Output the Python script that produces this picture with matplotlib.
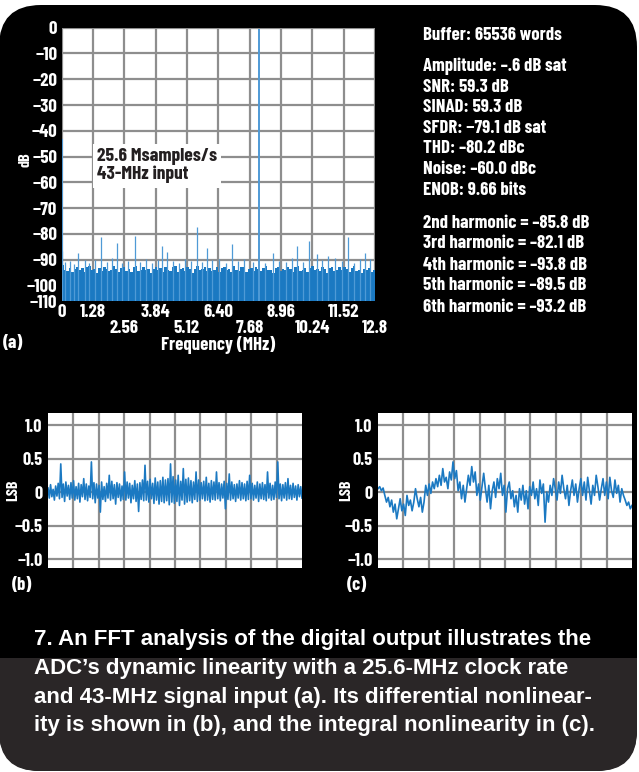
import os
import numpy as np
import matplotlib
matplotlib.use('Agg')
import matplotlib.pyplot as plt
from matplotlib import font_manager
from matplotlib.patches import FancyBboxPatch, Rectangle

# ---- data ----
# (a) FFT: noise floor per 0.1 MHz bin, spurs, and the DC / fundamental tones
floor_db = [
    -92.0, -93.8, -94.2, -93.1, -94.6, -93.5, -92.7, -94.0, -93.3, -94.8,
    -93.0, -92.4, -94.1, -93.6, -95.0, -93.2, -94.4, -92.9, -93.7, -94.5,
    -93.9, -92.6, -93.4, -94.7, -93.1, -92.8, -94.2, -93.5, -94.9, -93.0,
    -92.5, -94.3, -93.8, -92.9, -94.0, -93.4, -95.2, -93.6, -92.7, -94.1,
    -93.3, -94.6, -92.8, -93.9, -94.4, -93.0, -92.6, -94.8, -93.5, -93.2,
    -94.3, -92.9, -93.7, -95.1, -93.4, -92.5, -94.0, -93.6, -92.8, -94.5,
    -93.1, -94.2, -93.8, -92.7, -94.6, -93.3, -92.9, -94.1, -93.5, -94.9,
    -92.6, -93.9, -94.3, -93.0, -92.8, -94.7, -93.4, -93.1, -94.2, -92.9,
    -93.6, -94.4, -93.2, -92.5, -94.0, -93.8, -95.0, -93.3, -92.7, -94.5,
    -93.5, -94.1, -92.9, -93.7, -94.6, -93.0, -92.4, -94.2, -93.9, -93.3,
    -94.8, -93.1, -92.6, -94.0, -93.6, -94.3, -92.8, -93.4, -95.1, -93.2,
    -92.7, -94.5, -93.8, -93.0, -94.1, -92.9, -93.5, -94.7, -93.3, -92.6,
    -94.2, -93.9, -95.3, -93.4, -94.0, -93.1, -94.6, -93.8]

spur_mhz = [0.04, 0.15, 0.33, 0.52, 0.69, 0.95, 1.12, 1.35, 1.60, 1.85,
            2.05, 2.25, 2.48, 2.72, 3.00, 3.22, 3.45, 3.70, 3.95, 4.12,
            4.32, 4.55, 4.80, 5.05, 5.30, 5.52, 5.75, 5.93, 6.15, 6.42,
            6.70, 6.95, 7.20, 7.45, 7.80, 8.30, 8.65, 8.90, 9.15, 9.40,
            9.60, 9.85, 10.12, 10.42, 10.65, 10.90, 11.15, 11.45, 11.71, 11.95,
            12.20, 12.39, 12.60]
spur_db = [-86.5, -91.0, -90.5, -91.5, -87.5, -90.2, -91.3, -90.0, -81.0, -90.8,
           -89.5, -83.6, -91.2, -90.3, -80.7, -90.9, -89.8, -91.4, -90.1, -84.6,
           -87.0, -90.6, -91.1, -89.9, -90.4, -77.4, -91.0, -85.5, -90.2, -89.7,
           -91.3, -83.8, -90.5, -89.6, -90.9, -91.2, -87.5, -90.3, -91.0, -89.4,
           -84.6, -90.7, -82.9, -87.6, -90.1, -88.5, -89.2, -90.6, -81.0, -91.1,
           -89.8, -87.5, -89.9]

tone_mhz = [0.03, 8.05]
tone_db = [-43.0, -0.6]

freq_row1 = [0, 1.28, 3.84, 6.40, 8.96, 11.52]
freq_row1_lbl = ['0', '1.28', '3.84', '6.40', '8.96', '11.52']
freq_row2 = [2.56, 5.12, 7.68, 10.24, 12.8]
freq_row2_lbl = ['2.56', '5.12', '7.68', '10.24', '12.8']
db_ticks = [0, -10, -20, -30, -40, -50, -60, -70, -80, -90, -100, -106]
db_lbl = ['0', '\u221210', '\u221220', '\u221230', '\u221240', '\u221250',
          '\u221260', '\u221270', '\u221280', '\u221290', '\u2212100', '\u2212110']

# (b) differential nonlinearity, LSB
dnl = [
    0.06, -0.09, 0.11, -0.07, 0.04, -0.12, 0.09, -0.06, 0.13, -0.10,
    0.42, -0.08, 0.12, -0.14, 0.15, -0.06, 0.10, -0.11, 0.14, -0.09,
    0.17, -0.12, 0.08, -0.10, 0.13, -0.15, 0.11, -0.07, 0.20, -0.11,
    0.12, -0.13, 0.09, -0.08, 0.45, -0.10, 0.14, -0.16, 0.12, -0.09,
    0.10, -0.30, 0.15, -0.11, 0.08, -0.14, 0.13, -0.09, 0.25, -0.12,
    0.16, -0.10, 0.11, -0.18, 0.14, -0.08, 0.12, -0.13, 0.09, -0.11,
    0.30, -0.12, 0.15, -0.09, 0.13, -0.16, 0.10, -0.10, 0.17, -0.14,
    0.12, -0.29, 0.14, -0.11, 0.18, -0.13, 0.40, -0.12, 0.16, -0.15,
    0.19, -0.10, 0.13, -0.17, 0.21, -0.12, 0.15, -0.18, 0.17, -0.14,
    0.22, -0.16, 0.18, -0.13, 0.20, -0.19, 0.42, -0.15, 0.23, -0.17,
    0.18, -0.14, 0.25, -0.20, 0.16, -0.12, 0.35, -0.18, 0.19, -0.15,
    0.21, -0.13, 0.17, -0.16, 0.15, -0.11, 0.30, -0.14, 0.18, -0.12,
    0.14, -0.10, 0.16, -0.13, 0.22, -0.12, 0.13, -0.15, 0.17, -0.11,
    0.15, -0.12, 0.30, -0.10, 0.14, -0.13, 0.12, -0.09, 0.16, -0.25,
    0.13, -0.11, 0.27, -0.12, 0.15, -0.10, 0.11, -0.14, 0.12, -0.09,
    0.17, -0.12, 0.14, -0.10, 0.12, -0.13, 0.16, -0.11, 0.25, -0.10,
    0.13, -0.12, 0.10, -0.09, 0.15, -0.14, 0.12, -0.10, 0.14, -0.11,
    0.11, -0.13, 0.30, -0.09, 0.13, -0.12, 0.10, -0.11, 0.15, -0.08,
    0.45, -0.10, 0.12, -0.13, 0.11, -0.09, 0.14, -0.12, 0.20, -0.10,
    0.10, -0.11, 0.13, -0.08, 0.09, -0.12, 0.11, -0.07, 0.08, -0.09]

# (c) integral nonlinearity, LSB
inl = [
    0.05, 0.08, 0.02, 0.06, -0.05, -0.15, -0.08, -0.22, -0.12, -0.30,
    -0.18, -0.40, -0.25, -0.10, -0.28, -0.18, -0.35, -0.05, -0.20, -0.12,
    -0.28, -0.15, 0.05, -0.10, -0.22, -0.08, -0.30, -0.15, 0.10, -0.05,
    0.12, -0.02, 0.15, 0.05, 0.20, 0.08, 0.25, 0.10, 0.35, 0.15,
    0.22, 0.05, 0.30, 0.18, 0.45, 0.20, 0.32, 0.02, 0.15, -0.10,
    0.10, -0.15, 0.05, 0.25, 0.10, 0.38, 0.15, 0.30, -0.05, 0.12,
    -0.12, 0.08, 0.28, 0.05, -0.15, 0.10, -0.25, 0.02, 0.15, -0.08,
    0.20, 0.05, 0.28, -0.05, 0.10, -0.30, 0.05, 0.15, -0.10, 0.02,
    -0.22, -0.05, -0.30, 0.05, -0.12, 0.10, -0.18, 0.02, -0.25, 0.08,
    -0.05, 0.15, -0.10, 0.05, -0.20, 0.18, -0.02, 0.12, -0.45, 0.00,
    -0.15, 0.10, -0.05, 0.20, 0.05, -0.12, 0.15, -0.02, 0.25, 0.05,
    -0.10, 0.10, -0.20, 0.02, 0.18, -0.05, 0.12, -0.15, 0.05, 0.20,
    -0.05, 0.15, -0.12, 0.22, 0.02, -0.18, 0.10, -0.05, 0.25, 0.08,
    -0.12, 0.05, 0.20, -0.05, 0.15, -0.10, 0.22, 0.02, -0.08, 0.18,
    -0.02, 0.10, -0.15, 0.05, -0.05, -0.12, -0.20, -0.15, -0.25, -0.20]

lsb_ticks = [1.0, 0.5, 0, -0.5, -1.0]
lsb_lbl = ['1.0', '0.5', '0', '\u22120.5', '\u22121.0']

stats = ['Amplitude: \u2013.6 dB sat', 'SNR: 59.3 dB', 'SINAD: 59.3 dB',
         'SFDR: \u221279.1 dB sat', 'THD: \u201380.2 dBc', 'Noise: \u201360.0 dBc',
         'ENOB: 9.66 bits']
harmonics = ['2nd harmonic = \u201385.8 dB', '3rd harmonic = \u201382.1 dB',
             '4th harmonic = \u201393.8 dB', '5th harmonic = \u201389.5 dB',
             '6th harmonic = \u201393.2 dB']
caption = ['7. An FFT analysis of the digital output illustrates the',
           'ADC\u2019s dynamic linearity with a 25.6-MHz clock rate',
           'and 43-MHz signal input (a). Its differential nonlinear-',
           'ity is shown in (b), and the integral nonlinearity in (c).']

BLUE = '#1b79c2'
LIGHT = '#4f9ad6'
GRID = '#8e8e8e'


def find_font(names):
    files = {os.path.basename(f).lower(): f for f in font_manager.findSystemFonts()}
    for n in names:
        if n.lower() in files:
            return files[n.lower()]
    return None


cond_file = find_font(['BarlowCondensed-Bold.ttf', 'RobotoCondensed-Bold.ttf',
                       'DejaVuSansCondensed-Bold.ttf'])


def cond(size):
    if cond_file:
        return font_manager.FontProperties(fname=cond_file, size=size)
    return font_manager.FontProperties(family='DejaVu Sans', weight='bold', size=size * 0.85)


W, H = 639, 772
fig = plt.figure(figsize=(W / 100, H / 100), dpi=100)
fig.patch.set_facecolor('white')

# background panel in pixel coordinates
bg = fig.add_axes([0, 0, 1, 1])
bg.set_xlim(0, W)
bg.set_ylim(H, 0)
bg.axis('off')
bg.add_patch(FancyBboxPatch((-1, 5), 638, 766, boxstyle='round,pad=0,rounding_size=42',
                            fc='black', ec='none'))
bg.add_patch(FancyBboxPatch((-1, 600), 638, 171, boxstyle='round,pad=0,rounding_size=40',
                            fc='#2a2627', ec='none'))
bg.add_patch(Rectangle((-1, 600), 638, 58, fc='black', ec='none'))


def style(ax, size):
    ax.set_facecolor('white')
    for s in ax.spines.values():
        s.set_visible(False)
    ax.set_axisbelow(True)
    ax.grid(True, which='both', color=GRID, lw=1.6)
    ax.tick_params(which='both', length=0, labelcolor='white')
    for lab in ax.get_yticklabels() + ax.get_xticklabels(which='both'):
        lab.set_fontproperties(cond(size))


# ---- (a) FFT ----
axa = fig.add_axes([61.5 / W, 1 - 301 / H, 313.5 / W, 273.3 / H])
edges = np.linspace(0, 12.8, len(floor_db) + 1)
axa.stairs(floor_db, edges, baseline=-110, fill=True, color=BLUE, lw=0)
axa.vlines(spur_mhz, -110, spur_db, color=LIGHT, lw=0.9)
axa.vlines(tone_mhz, -110, tone_db, color=LIGHT, lw=1.4)
axa.set_xlim(0, 12.8)
axa.set_ylim(-106, 0)
axa.set_xticks(freq_row1, freq_row1_lbl)
axa.set_xticks(freq_row2, freq_row2_lbl, minor=True)
axa.set_yticks(db_ticks, db_lbl)
style(axa, 13.5)
axa.tick_params(axis='x', which='major', pad=2)
axa.tick_params(axis='x', which='minor', pad=14)
axa.tick_params(axis='y', pad=3)
axa.text(1.45, -53.6, '25.6 Msamples/s\n43-MHz input', color='#231f20',
         fontproperties=cond(14), va='center', ha='left',
         linespacing=1.05, bbox=dict(fc='white', ec='none', pad=3))

# ---- (b) DNL and (c) INL ----
for left, series in ((48, dnl), (378, inl)):
    ax = fig.add_axes([left / W, 1 - 568 / H, 254 / W, 155 / H])
    n = len(series)
    ax.plot(np.arange(n), series, color=BLUE, lw=1.2)
    ax.set_xlim(0, n - 1)
    ax.set_ylim(-1.134, 1.18)
    ax.set_xticks(np.linspace(0, n - 1, 11)[1:-1], [''] * 9)
    ax.set_yticks(lsb_ticks, lsb_lbl)
    style(ax, 13)
    ax.tick_params(axis='y', pad=4)

# ---- labels and text ----
def label(x, y, s, size, **kw):
    bg.text(x, y, s, color='white', fontproperties=cond(size),
            va='center', **kw)


label(25, 160, 'dB', 11.5, rotation=90, ha='center')
label(218, 345, 'Frequency (MHz)', 13.5, ha='center')
label(13.5, 344, '(a)', 13.5, ha='center')
label(13, 490, 'LSB', 11.5, rotation=90, ha='center')
label(346, 490, 'LSB', 11.5, rotation=90, ha='center')
label(22, 585, '(b)', 13.5, ha='center')
label(357, 586, '(c)', 13.5, ha='center')

label(423, 36, 'Buffer: 65536 words', 13.5, ha='left')
for i, s in enumerate(stats):
    label(423, 66.5 + 20.6 * i, s, 13.5, ha='left')
for i, s in enumerate(harmonics):
    label(423, 223 + 21 * i, s, 13.5, ha='left')

for i, s in enumerate(caption):
    bg.text(34, 640 + 28.6 * i, s, ha='left', va='center', color='white',
            family=['Liberation Sans', 'DejaVu Sans'], weight='bold', fontsize=16)

fig.savefig('out.png', dpi=100, facecolor=fig.get_facecolor())
